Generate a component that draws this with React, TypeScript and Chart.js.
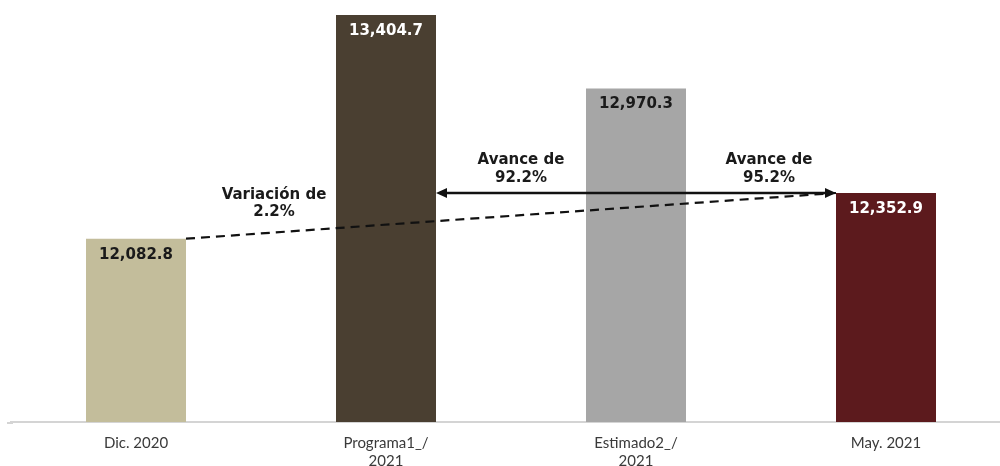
import React, { useEffect, useRef } from "react";
import { Chart, registerables } from "chart.js";

Chart.register(...registerables);

const categories: string[][] = [["Dic. 2020"], ["Programa1_/", "2021"], ["Estimado2_/", "2021"], ["May. 2021"]];
const values: number[] = [12082.8, 13404.7, 12970.3, 12352.9];
const barColors: string[] = ["#c3bd9b", "#4a3f31", "#a6a6a6", "#5c1a1d"];
const labelColors: string[] = ["#1a1a1a", "#ffffff", "#1a1a1a", "#ffffff"];
const variationPct: number = 2.2;
const avancePct: number[] = [92.2, 95.2];

const fmt = (v: number) =>
  v.toLocaleString("en-US", { minimumFractionDigits: 1, maximumFractionDigits: 1 });

const annotate = {
  id: "annotate",
  afterDatasetsDraw(chart: any) {
    const ctx = chart.ctx as CanvasRenderingContext2D;
    const bars = chart.getDatasetMeta(0).data as any[];
    ctx.save();
    // extended baseline
    const ca = chart.chartArea;
    ctx.strokeStyle = "#d4d4d4";
    ctx.lineWidth = 2;
    ctx.beginPath();
    ctx.moveTo(7, ca.bottom + 1);
    ctx.lineTo(ca.left + 2, ca.bottom + 1);
    ctx.stroke();
    // value labels
    ctx.font = "bold 15px 'DejaVu Sans'";
    ctx.textAlign = "center";
    ctx.textBaseline = "middle";
    bars.forEach((b, i) => {
      ctx.fillStyle = labelColors[i];
      ctx.fillText(fmt(values[i]), b.x, b.y + 16);
    });
    const b0 = bars[0], b1 = bars[1], b2 = bars[2], b3 = bars[3];
    const r0 = b0.x + b0.width / 2;
    const r1 = b1.x + b1.width / 2;
    const l2 = b2.x - b2.width / 2;
    const r2 = b2.x + b2.width / 2;
    const l3 = b3.x - b3.width / 2;
    const l1 = b1.x - b1.width / 2;
    // dashed line
    ctx.strokeStyle = "#111";
    ctx.lineWidth = 2.2;
    ctx.setLineDash([9, 6]);
    ctx.beginPath();
    ctx.moveTo(r0, b0.y);
    ctx.lineTo(l3, b3.y);
    ctx.stroke();
    ctx.setLineDash([]);
    // arrow
    const ay = b3.y;
    ctx.lineWidth = 2.5;
    ctx.beginPath();
    ctx.moveTo(r1 + 6, ay);
    ctx.lineTo(l3 - 6, ay);
    ctx.stroke();
    ctx.fillStyle = "#111";
    ctx.beginPath();
    ctx.moveTo(r1, ay);
    ctx.lineTo(r1 + 11, ay - 5);
    ctx.lineTo(r1 + 11, ay + 5);
    ctx.closePath();
    ctx.fill();
    ctx.beginPath();
    ctx.moveTo(l3, ay);
    ctx.lineTo(l3 - 11, ay - 5);
    ctx.lineTo(l3 - 11, ay + 5);
    ctx.closePath();
    ctx.fill();
    // texts
    ctx.font = "bold 15px 'DejaVu Sans'";
    ctx.fillStyle = "#1a1a1a";
    const vx = (r0 + l1) / 2 + 13;
    ctx.fillText("Variación de", vx, b0.y - 44);
    ctx.fillText(variationPct.toFixed(1) + "%", vx, b0.y - 27);
    const ax1 = (r1 + l2) / 2 + 10;
    const ax2 = (r2 + l3) / 2 + 8;
    ctx.fillText("Avance de", ax1, ay - 33);
    ctx.fillText(avancePct[0].toFixed(1) + "%", ax1, ay - 15);
    ctx.fillText("Avance de", ax2, ay - 33);
    ctx.fillText(avancePct[1].toFixed(1) + "%", ax2, ay - 15);
    ctx.restore();
  },
};

export default function App() {
  const ref = useRef<HTMLCanvasElement | null>(null);
  useEffect(() => {
    if (!ref.current) return;
    const chart = new Chart(ref.current, {
      type: "bar",
      data: {
        labels: categories,
        datasets: [
          {
            data: values,
            backgroundColor: barColors,
            barPercentage: 0.4,
            categoryPercentage: 1,
          },
        ],
      },
      options: {
        responsive: false,
        animation: false,
        layout: { padding: { left: 11, right: 0, top: 0, bottom: 0 } },
        plugins: { legend: { display: false }, tooltip: { enabled: false } },
        scales: {
          x: {
            grid: { display: false },
            border: { display: true, color: "#d4d4d4", width: 2 },
            ticks: {
              color: "#3a3a3a",
              font: { family: "Lato", size: 15 },
              padding: 4,
              maxRotation: 0,
              autoSkip: false,
            },
            afterFit: (s: any) => {
              s.height = 44;
            },
          },
          y: { display: false, min: 11000, max: 13493 },
        },
      },
      plugins: [annotate],
    });
    return () => chart.destroy();
  }, []);
  return (
    <div style={{ position: "fixed", left: 0, top: 0, width: 1000, height: 466, overflow: "hidden", background: "#fff" }}>
      <canvas ref={ref} width={1011} height={466} style={{ width: 1011, height: 466, display: "block" }} />
    </div>
  );
}
